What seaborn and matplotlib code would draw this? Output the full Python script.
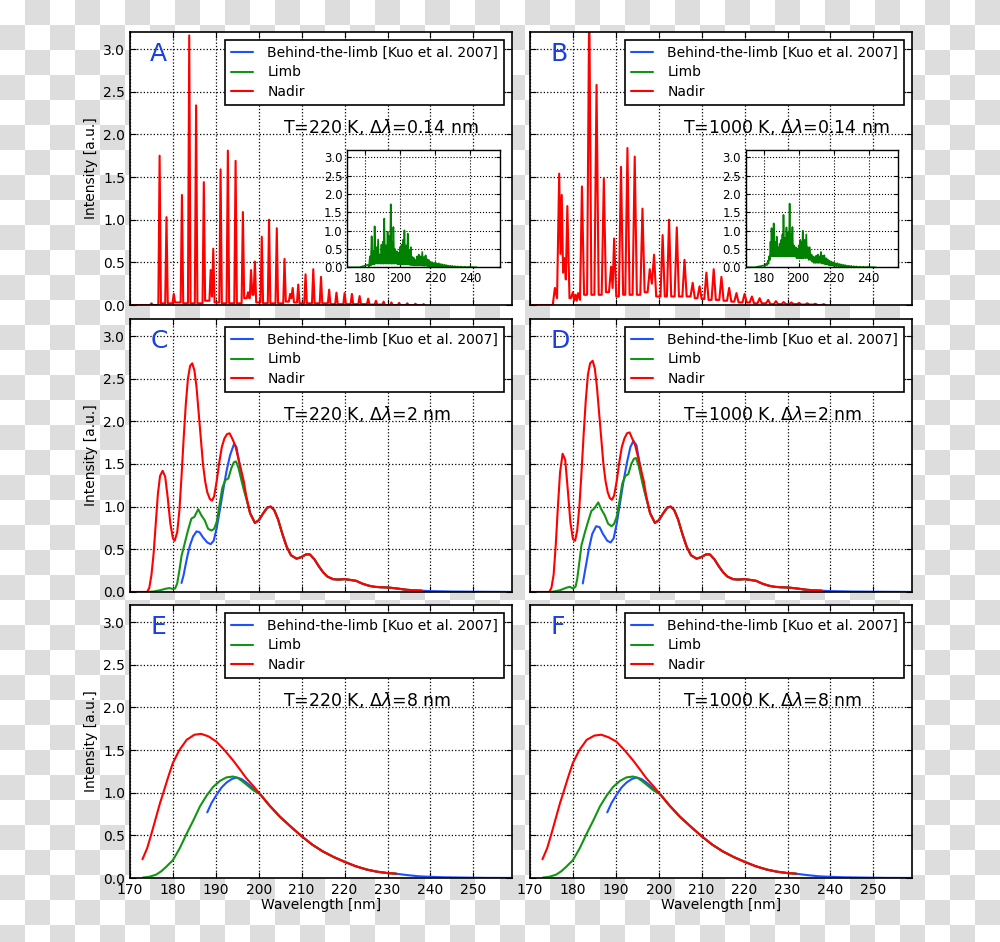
import numpy as np
import matplotlib
matplotlib.use("Agg")
import matplotlib.pyplot as plt
import seaborn as sns
from matplotlib.lines import Line2D

# colours of the three geometries
BLUE = "#1e50ff"
GREEN = "#149414"
RED = "#ff0000"
LETTER = "#1a40e0"
INSET_GREEN = "#008000"

LABELS = ["Behind-the-limb [Kuo et al. 2007]", "Limb", "Nadir"]

# ---------------- 0.14 nm resolution: nadir peaks (main panels) ----------------
A_PK_WL = [175.0, 176.9, 178.5, 180.2, 182.1, 183.8, 185.4, 187.2, 188.8, 189.4, 191.1, 192.8,
           194.6, 196.3, 197.5, 198.2, 199.1, 200.7, 202.4, 204.2, 206.0, 207.3, 207.9, 209.2,
           210.9, 212.7, 214.5, 216.4, 218.1, 220.0, 221.7, 223.5, 225.5, 227.3, 229.1, 230.9,
           232.7, 234.6, 236.5, 238.4]
A_PK_I = [0.02, 1.75, 1.03, 0.13, 1.29, 3.16, 2.34, 1.44, 0.41, 0.66, 1.59, 1.81,
          1.69, 1.09, 0.15, 0.41, 0.51, 0.80, 1.00, 0.90, 0.54, 0.13, 0.20, 0.24,
          0.36, 0.42, 0.33, 0.18, 0.145, 0.14, 0.13, 0.105, 0.075, 0.05, 0.04, 0.03,
          0.025, 0.02, 0.015, 0.01]
A_VALLEY = [0.0, 0.02, 0.02, 0.03, 0.02, 0.02, 0.02, 0.05, 0.1, 0.03, 0.02, 0.02,
            0.02, 0.08, 0.08, 0.12, 0.03, 0.02, 0.02, 0.02, 0.04, 0.08, 0.03, 0.02,
            0.02, 0.02, 0.02, 0.01, 0.01, 0.01, 0.01, 0.01, 0.005, 0.005, 0.0, 0.0,
            0.0, 0.0, 0.0, 0.0]

B_PK_WL = [175.8, 176.8, 177.4, 178.0, 178.7, 180.0, 180.6, 181.2, 182.1, 183.8, 185.5, 187.2,
           188.9, 189.6, 191.2, 192.7, 194.4, 196.2, 197.9, 198.9, 200.9, 202.4, 204.2, 206.0,
           207.9, 209.5, 211.1, 212.8, 214.6, 216.4, 218.1, 220.0, 221.7, 223.5, 225.5, 227.3,
           229.1, 230.9, 232.7, 234.6, 236.5, 238.4]
B_PK_I = [0.20, 1.54, 1.29, 0.55, 1.16, 0.15, 0.12, 0.14, 1.39, 3.60, 2.58, 1.48,
          0.45, 0.78, 1.62, 1.84, 1.74, 1.13, 0.42, 0.59, 0.82, 1.00, 0.91, 0.53,
          0.26, 0.22, 0.38, 0.42, 0.33, 0.20, 0.14, 0.13, 0.10, 0.08, 0.06, 0.045,
          0.035, 0.03, 0.025, 0.02, 0.015, 0.01]
B_VALLEY = [0.08, 0.6, 0.38, 0.3, 0.08, 0.05, 0.05, 0.06, 0.12, 0.12, 0.12, 0.15,
            0.2, 0.1, 0.12, 0.12, 0.12, 0.15, 0.25, 0.1, 0.1, 0.1, 0.1, 0.1,
            0.08, 0.07, 0.06, 0.06, 0.05, 0.04, 0.03, 0.03, 0.02, 0.02, 0.01, 0.01,
            0.01, 0.01, 0.005, 0.005, 0.0, 0.0]

# ---------------- 0.14 nm resolution: limb (insets) ----------------
A_IN_WL = [181.9, 182.9, 183.9, 184.8, 185.6, 186.6, 187.6, 188.6, 189.5, 190.3, 191.1, 192.1,
           193.0, 193.9, 194.8, 195.6, 196.3, 197.3, 198.3, 199.2, 200.0, 201.0, 201.8, 202.6,
           203.6, 204.5, 205.4, 206.3, 207.3, 208.2, 209.0, 209.9, 210.8, 211.8, 212.8, 213.8,
           214.7, 215.7, 216.6, 217.6, 218.5, 219.5, 220.4, 221.4, 222.3, 223.4, 224.4, 225.5,
           226.5, 227.5, 228.7, 230.0, 231.5, 233.0, 235.0, 237.0, 239.0]
A_IN_I = [0.07, 0.30, 0.85, 0.45, 1.12, 0.55, 0.76, 0.35, 0.62, 0.70, 1.33, 0.60,
          0.97, 0.85, 1.72, 0.70, 1.10, 0.50, 0.44, 0.40, 0.55, 0.62, 0.75, 1.01,
          0.60, 0.92, 0.45, 0.55, 0.28, 0.25, 0.20, 0.30, 0.35, 0.30, 0.42, 0.28,
          0.33, 0.22, 0.20, 0.15, 0.14, 0.12, 0.13, 0.10, 0.11, 0.09, 0.08, 0.07,
          0.06, 0.05, 0.045, 0.04, 0.03, 0.025, 0.02, 0.015, 0.01]
A_IN_VALLEY = [0.02, 0.05, 0.08, 0.08, 0.1, 0.1, 0.1, 0.1, 0.1, 0.1, 0.1, 0.1,
               0.1, 0.1, 0.1, 0.1, 0.1, 0.1, 0.08, 0.08, 0.08, 0.08, 0.08, 0.08,
               0.08, 0.08, 0.06, 0.06, 0.05, 0.05, 0.05, 0.05, 0.05, 0.05, 0.04, 0.04,
               0.04, 0.03, 0.03, 0.03, 0.02, 0.02, 0.02, 0.02, 0.02, 0.01, 0.01, 0.01,
               0.01, 0.01, 0.01, 0.005, 0.005, 0.005, 0.0, 0.0, 0.0]

B_IN_WL = [180.0, 181.5, 182.5, 183.2, 184.0, 184.6, 185.2, 185.8, 186.6, 187.5, 188.4, 189.2,
           190.1, 190.8, 191.4, 192.2, 193.1, 194.0, 194.9, 195.7, 196.5, 197.4, 198.4, 199.3,
           200.1, 201.0, 201.7, 202.4, 203.4, 204.4, 205.4, 206.4, 207.4, 208.3, 209.2, 210.1,
           211.0, 211.9, 212.8, 213.8, 214.7, 215.7, 216.6, 217.6, 218.5, 219.5, 220.4, 221.4,
           222.3, 223.4, 224.4, 225.5, 226.5, 227.5, 228.7, 230.0, 231.5, 233.0, 235.0, 237.0,
           239.0]
B_IN_I = [0.05, 0.10, 0.18, 0.30, 0.70, 1.07, 0.60, 1.20, 0.70, 0.84, 0.55, 0.65,
          0.75, 0.90, 1.43, 0.80, 1.09, 0.95, 1.74, 0.90, 1.10, 0.60, 0.55, 0.50,
          0.60, 0.75, 0.70, 1.00, 0.75, 0.90, 0.55, 0.55, 0.35, 0.30, 0.28, 0.32,
          0.35, 0.30, 0.42, 0.32, 0.33, 0.25, 0.22, 0.18, 0.16, 0.14, 0.13, 0.11,
          0.11, 0.09, 0.08, 0.07, 0.06, 0.05, 0.045, 0.04, 0.03, 0.025, 0.02, 0.015,
          0.01]
B_IN_VALLEY = [0.03, 0.06, 0.1, 0.2, 0.3, 0.3, 0.3, 0.3, 0.3, 0.3, 0.3, 0.3,
               0.3, 0.3, 0.3, 0.3, 0.3, 0.3, 0.3, 0.3, 0.3, 0.3, 0.25, 0.25,
               0.25, 0.25, 0.25, 0.25, 0.25, 0.25, 0.2, 0.2, 0.15, 0.12, 0.12, 0.12,
               0.12, 0.12, 0.1, 0.1, 0.08, 0.08, 0.06, 0.05, 0.05, 0.04, 0.04, 0.03,
               0.03, 0.02, 0.02, 0.02, 0.01, 0.01, 0.01, 0.005, 0.005, 0.0, 0.0, 0.0,
               0.0]

# ---------------- 2 nm resolution (C: 220 K, D: 1000 K) ----------------
C_NADIR_WL = [170, 174.0, 174.5, 175.0, 175.5, 176.0, 176.5, 177.0, 177.6, 178.2, 178.8, 179.4,
              180.0, 180.4, 181.0, 181.5, 182.0, 182.5, 183.0, 183.5, 184.0, 184.5, 185.0, 185.5,
              186.0, 186.5, 187.0, 187.5, 188.0, 188.6, 189.1, 189.6, 190.2, 190.8, 191.4, 192.0,
              192.6, 193.2, 193.8, 194.5, 195.7, 196.5, 197.1, 198.0]
C_NADIR_I = [0, 0.0, 0.05, 0.2, 0.45, 0.8, 1.15, 1.36, 1.42, 1.35, 1.1, 0.8,
             0.63, 0.6, 0.7, 0.95, 1.35, 1.8, 2.2, 2.5, 2.65, 2.68, 2.6, 2.4,
             2.1, 1.8, 1.5, 1.3, 1.17, 1.09, 1.07, 1.12, 1.3, 1.52, 1.7, 1.8,
             1.85, 1.86, 1.8, 1.72, 1.47, 1.3, 1.12, 0.92]
C_BEHIND_WL = [182.0, 182.5, 183.0, 183.5, 184.0, 184.7, 185.5, 186.2, 187.0, 188.0, 188.8, 189.5,
               190.2, 191.0, 191.8, 192.5, 193.3, 194.2, 194.8, 195.5, 196.3, 197.1, 198.0]
C_BEHIND_I = [0.105, 0.2, 0.33, 0.45, 0.55, 0.65, 0.71, 0.70, 0.64, 0.58, 0.56, 0.6,
              0.75, 0.98, 1.22, 1.42, 1.6, 1.73, 1.7, 1.5, 1.28, 1.1, 0.92]
C_LIMB_WL = [174.0, 175.5, 177.0, 178.5, 179.2, 180.0, 180.5, 181.0, 181.5, 182.0, 182.8, 183.5,
             184.3, 185.0, 185.9, 186.6, 187.4, 188.2, 189.0, 189.6, 190.2, 190.8, 191.5, 192.2,
             192.9, 193.6, 194.2, 194.7, 195.3, 196.0, 196.6, 197.2, 198.0]
C_LIMB_I = [0.0, 0.005, 0.02, 0.04, 0.045, 0.035, 0.04, 0.1, 0.25, 0.42, 0.58, 0.72,
            0.86, 0.88, 0.97, 0.9, 0.84, 0.74, 0.72, 0.74, 0.82, 1.0, 1.22, 1.31,
            1.33, 1.45, 1.52, 1.53, 1.45, 1.3, 1.18, 1.08, 0.92]

D_NADIR_WL = [170, 174.5, 175.0, 175.5, 176.0, 176.5, 177.0, 177.6, 178.2, 178.8, 179.4, 180.0,
              180.5, 181.0, 181.5, 182.0, 182.5, 183.0, 183.5, 184.0, 184.6, 185.1, 185.6, 186.1,
              186.6, 187.1, 187.6, 188.1, 188.6, 189.1, 189.6, 190.2, 190.8, 191.4, 192.0, 192.6,
              193.2, 193.8, 194.5, 195.7, 196.5, 197.1, 198.0]
D_NADIR_I = [0, 0.0, 0.05, 0.2, 0.55, 1.0, 1.4, 1.62, 1.55, 1.2, 0.82, 0.62,
             0.6, 0.72, 1.0, 1.4, 1.85, 2.25, 2.55, 2.68, 2.71, 2.62, 2.4, 2.1,
             1.8, 1.5, 1.3, 1.17, 1.1, 1.08, 1.13, 1.3, 1.52, 1.7, 1.8, 1.86,
             1.87, 1.8, 1.72, 1.47, 1.3, 1.12, 0.92]
D_BEHIND_WL = [182.3, 183.0, 183.7, 184.5, 185.4, 186.2, 187.0, 188.0, 188.8, 189.5, 190.2, 191.0,
               191.8, 192.6, 193.4, 194.1, 194.8, 195.5, 196.3, 197.1, 198.0]
D_BEHIND_I = [0.1, 0.3, 0.5, 0.68, 0.77, 0.76, 0.68, 0.6, 0.58, 0.63, 0.8, 1.05,
              1.3, 1.52, 1.7, 1.77, 1.72, 1.52, 1.28, 1.1, 0.92]
D_LIMB_WL = [175.0, 177.0, 178.5, 179.3, 180.0, 180.6, 181.0, 181.5, 182.0, 182.8, 183.5, 184.3,
             185.0, 185.9, 186.6, 187.4, 188.2, 189.0, 189.6, 190.2, 190.8, 191.5, 192.2, 192.9,
             193.6, 194.2, 194.7, 195.3, 196.0, 196.6, 197.2, 198.0]
D_LIMB_I = [0.0, 0.02, 0.05, 0.06, 0.04, 0.06, 0.15, 0.35, 0.55, 0.7, 0.82, 0.95,
            0.98, 1.05, 0.97, 0.9, 0.8, 0.77, 0.8, 0.88, 1.05, 1.27, 1.36, 1.38,
            1.5, 1.56, 1.57, 1.48, 1.32, 1.19, 1.08, 0.92]

# common long-wavelength part of the 2 nm spectra (all geometries coincide)
CD_TAIL_WL = [199.1, 200.0, 201.0, 202.0, 202.8, 203.6, 204.5, 205.5, 206.5, 207.5, 208.8, 210.0,
              211.0, 211.9, 213.0, 214.0, 215.0, 216.0, 217.3, 218.5, 220.0, 221.5, 222.7, 224.0,
              225.5, 227.0, 228.5, 230.0, 231.5, 233.0, 234.5, 236.0, 238.0]
CD_TAIL_I = [0.81, 0.84, 0.92, 0.99, 1.0, 0.96, 0.85, 0.68, 0.53, 0.43, 0.39, 0.41,
             0.44, 0.44, 0.38, 0.3, 0.23, 0.18, 0.15, 0.145, 0.15, 0.14, 0.13, 0.1,
             0.075, 0.06, 0.055, 0.052, 0.045, 0.035, 0.025, 0.02, 0.015]
CD_FAR_WL = [240.0, 245.0, 250.0, 259.0]
CD_FAR_I = [0.01, 0.005, 0.003, 0.0]

# ---------------- 8 nm resolution (E: 220 K, F: 1000 K) ----------------
E_NADIR_WL = [172.9, 174.0, 175.0, 176.0, 177.0, 177.7, 179.0, 180.0, 181.5, 183.2, 185.0, 186.6,
              188.3, 190.1, 192.0, 194.0, 195.5, 197.1, 198.7]
E_NADIR_I = [0.22, 0.35, 0.52, 0.7, 0.88, 0.99, 1.2, 1.35, 1.5, 1.62, 1.68, 1.69,
             1.66, 1.6, 1.5, 1.38, 1.28, 1.17, 1.08]
E_LIMB_WL = [173.0, 174.5, 176.1, 177.3, 178.4, 180.0, 181.6, 183.2, 184.8, 186.3, 187.9, 189.4,
             191.0, 192.5, 194.0, 195.2, 196.3, 197.5, 198.7]
E_LIMB_I = [0.005, 0.015, 0.04, 0.08, 0.13, 0.21, 0.35, 0.52, 0.68, 0.84, 0.97, 1.07,
            1.14, 1.18, 1.19, 1.17, 1.13, 1.08, 1.03]
E_BEHIND_WL = [188.0, 189.0, 190.1, 191.3, 192.5, 193.7, 194.8, 196.0, 197.1, 198.3, 199.4]
E_BEHIND_I = [0.77, 0.88, 0.97, 1.06, 1.12, 1.16, 1.18, 1.16, 1.12, 1.07, 1.01]

F_NADIR_WL = [172.9, 174.0, 175.0, 176.0, 177.0, 177.7, 179.0, 180.0, 181.5, 183.2, 185.0, 186.6,
              188.3, 190.1, 192.0, 194.0, 195.5, 197.1, 198.7]
F_NADIR_I = [0.22, 0.35, 0.52, 0.7, 0.88, 0.99, 1.2, 1.35, 1.5, 1.62, 1.67, 1.68,
             1.65, 1.6, 1.5, 1.38, 1.28, 1.17, 1.08]

EF_TAIL_WL = [200.2, 202.5, 204.9, 207.5, 210.0, 212.5, 215.0, 217.5, 220.0, 222.5, 225.1, 227.5,
              229.7, 232.1]
EF_TAIL_I = [0.99, 0.85, 0.72, 0.6, 0.49, 0.39, 0.31, 0.245, 0.19, 0.14, 0.1, 0.075,
             0.06, 0.05]
EF_FAR_WL = [234.5, 237.0, 239.7, 243.0, 248.3, 253.0, 259.0]
EF_FAR_I = [0.035, 0.022, 0.015, 0.009, 0.005, 0.002, 0.001]

PANELS = ["A", "B", "C", "D", "E", "F"]
TEMPS = ["220", "1000"]
RESOLUTIONS = ["0.14", "2", "8"]

# ---------------------------------------------------------------------------
sns.set_style("ticks")
plt.rcParams.update({
    "font.family": ["DejaVu Sans"],
    "mathtext.fontset": "dejavusans",
    "text.color": "black", "axes.labelcolor": "black",
    "xtick.direction": "in", "ytick.direction": "in",
    "xtick.top": True, "ytick.right": True,
    "xtick.major.size": 4, "ytick.major.size": 4,
    "xtick.color": "black", "ytick.color": "black",
    "axes.edgecolor": "black", "axes.linewidth": 1.0,
    "xtick.labelsize": 10, "ytick.labelsize": 10,
})


def spike_trace(pk_wl, pk_i, valleys, hw, start=170.0):
    # build a line trace from listed peaks; each peak falls to its listed valley level
    xs, ys = [start], [0.0]
    n = len(pk_wl)
    for k in range(n):
        prev_x = pk_wl[k - 1] if k else start
        next_x = pk_wl[k + 1] if k + 1 < n else pk_wl[k] + 2 * hw
        hl = min(hw, (pk_wl[k] - prev_x) / 2)
        hr = min(hw, (next_x - pk_wl[k]) / 2)
        left_level = valleys[k - 1] if k else 0.0
        xs += [pk_wl[k] - hl, pk_wl[k], pk_wl[k] + hr]
        ys += [left_level, pk_i[k], valleys[k]]
    return np.array(xs), np.array(ys)


def draw(ax, wl, vals, color, lw=1.5):
    sns.lineplot(x=np.asarray(wl, float), y=np.asarray(vals, float), ax=ax, color=color,
                 linewidth=lw, estimator=None, sort=False, errorbar=None)


def style_axes(ax, row, col):
    ax.set_xlim(170, 259)
    ax.set_ylim(0, 3.2)
    ax.set_xticks(np.arange(170, 251, 10))
    ax.set_yticks(np.arange(0, 3.01, 0.5))
    ax.grid(True, color="black", linestyle=":", linewidth=0.9)
    ax.set_axisbelow(True)
    for s in ax.spines.values():
        s.set_linewidth(1.2)
    if col == 0:
        ax.set_ylabel("Intensity [a.u.]", fontsize=10)
    else:
        ax.set_ylabel("")
        ax.tick_params(labelleft=False)
    if row == 2:
        ax.set_xlabel("Wavelength [nm]", fontsize=10, labelpad=1)
    else:
        ax.set_xlabel("")
        ax.tick_params(labelbottom=False)
    handles = [Line2D([0], [0], color=c, lw=1.5) for c in (BLUE, GREEN, RED)]
    leg = ax.legend(handles, LABELS, loc="upper right", fontsize=10, fancybox=False,
                    framealpha=1, edgecolor="black", borderaxespad=0.55, borderpad=0.45,
                    handlelength=1.6, handletextpad=1.0, labelspacing=0.4)
    leg.get_frame().set_linewidth(1.2)
    ax.text(0.053, 0.92, PANELS[row * 2 + col], transform=ax.transAxes, fontsize=18,
            color=LETTER, ha="left", va="center")
    ax.text(0.40, 0.652, "T=%s K, $\\Delta\\lambda$=%s nm" % (TEMPS[col], RESOLUTIONS[row]),
            transform=ax.transAxes, fontsize=12.5, ha="left", va="center")


fig = plt.figure(figsize=(10, 9.42), dpi=100)

# transparent-background checkerboard seen around the figure
bg = fig.add_axes([0, 0, 1, 1], zorder=-10)
checker = (np.add.outer(np.arange(38), np.arange(40)) % 2).astype(float)
bg.imshow(checker, cmap="gray_r", vmin=0, vmax=7.5, extent=[0, 1000, 950, 0],
          interpolation="nearest", aspect="auto")
bg.set_xlim(0, 1000)
bg.set_ylim(942, 0)
bg.axis("off")

lefts = [0.130, 0.530]
bottoms = [0.6762, 0.3716, 0.0679]
axes = [[fig.add_axes([lefts[c], bottoms[r], 0.382, 0.2898]) for c in range(2)] for r in range(3)]

# row 1: 0.14 nm
ax = axes[0][0]
draw(ax, *spike_trace(A_PK_WL, A_PK_I, A_VALLEY, 0.3), RED)
style_axes(ax, 0, 0)
ax = axes[0][1]
draw(ax, *spike_trace(B_PK_WL, B_PK_I, B_VALLEY, 0.5), RED)
style_axes(ax, 0, 1)

# row 2: 2 nm
for c, (nw, ni, bw, bi, lw_, li) in enumerate([
        (C_NADIR_WL, C_NADIR_I, C_BEHIND_WL, C_BEHIND_I, C_LIMB_WL, C_LIMB_I),
        (D_NADIR_WL, D_NADIR_I, D_BEHIND_WL, D_BEHIND_I, D_LIMB_WL, D_LIMB_I)]):
    ax = axes[1][c]
    draw(ax, bw + CD_TAIL_WL + CD_FAR_WL, bi + CD_TAIL_I + CD_FAR_I, BLUE)
    draw(ax, lw_ + CD_TAIL_WL, li + CD_TAIL_I, GREEN)
    draw(ax, nw + CD_TAIL_WL, ni + CD_TAIL_I, RED)
    style_axes(ax, 1, c)

# row 3: 8 nm
for c, (nw, ni) in enumerate([(E_NADIR_WL, E_NADIR_I), (F_NADIR_WL, F_NADIR_I)]):
    ax = axes[2][c]
    draw(ax, E_BEHIND_WL + EF_TAIL_WL + EF_FAR_WL, E_BEHIND_I + EF_TAIL_I + EF_FAR_I, BLUE)
    draw(ax, E_LIMB_WL + EF_TAIL_WL, E_LIMB_I + EF_TAIL_I, GREEN)
    draw(ax, nw + EF_TAIL_WL, ni + EF_TAIL_I, RED)
    style_axes(ax, 2, c)

# insets with the limb spectra at 0.14 nm
for c, (pw, pi, pv) in enumerate([(A_IN_WL, A_IN_I, A_IN_VALLEY), (B_IN_WL, B_IN_I, B_IN_VALLEY)]):
    ins = fig.add_axes([[0.3473, 0.746][c], 0.7162, 0.1524, 0.1245])
    draw(ins, *spike_trace(pw, pi, pv, 5.0), INSET_GREEN, lw=1.2)
    ins.set_xlim(170, 257)
    ins.set_ylim(0, 3.2)
    ins.set_xticks([180, 200, 220, 240])
    ins.set_yticks(np.arange(0, 3.01, 0.5))
    ins.tick_params(labelsize=8.5, length=3)
    ins.grid(True, color="black", linestyle=":", linewidth=0.8)
    ins.set_xlabel("")
    ins.set_ylabel("")
    for s in ins.spines.values():
        s.set_linewidth(1.0)

fig.savefig("out.png", dpi=100)
